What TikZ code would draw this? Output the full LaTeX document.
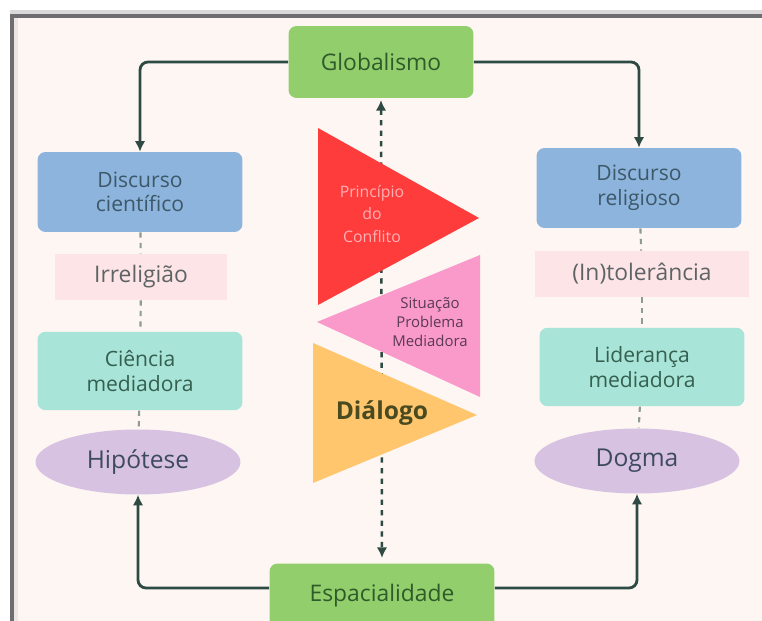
\documentclass[tikz,border=0pt]{standalone}
\usepackage{fontspec}
\setmainfont{Open Sans}
\usetikzlibrary{arrows.meta,shapes.geometric}

\definecolor{bgcream}{HTML}{FDF6F3}
\definecolor{framedk}{HTML}{6E6E72}
\definecolor{framelt}{HTML}{D9D9D9}
\definecolor{framesd}{HTML}{ECE7E3}
\definecolor{leafgreen}{HTML}{92CF6C}
\definecolor{leaftext}{HTML}{2F5A2A}
\definecolor{skyblue}{HTML}{8CB4DD}
\definecolor{skytext}{HTML}{3D5868}
\definecolor{blush}{HTML}{FDE4E6}
\definecolor{blushtext}{HTML}{5E6466}
\definecolor{mint}{HTML}{A8E4D8}
\definecolor{minttext}{HTML}{356050}
\definecolor{lilac}{HTML}{D8C2E2}
\definecolor{lilactext}{HTML}{3E4A60}
\definecolor{wirecol}{HTML}{2E4A42}
\definecolor{dashcol}{HTML}{8E9A96}
\definecolor{conflictred}{HTML}{FF3C3C}
\definecolor{conflicttext}{HTML}{FFB0B4}
\definecolor{problempink}{HTML}{F99ACB}
\definecolor{problemtext}{HTML}{5A3A55}
\definecolor{dialogorange}{HTML}{FFC66E}
\definecolor{dialogtext}{HTML}{4A4A20}

\begin{document}
\begin{tikzpicture}[x=0.02cm,y=-0.02cm,
    endbox/.style={fill=leafgreen, rounded corners=0.16cm, text=leaftext,
      minimum width=3.7cm, minimum height=1.44cm, font=\fontsize{13}{15}\selectfont},
    talkbox/.style={fill=skyblue, rounded corners=0.16cm, text=skytext, align=center,
      minimum width=4.1cm, minimum height=1.6cm, font=\fontsize{12}{14}\selectfont},
    tagbox/.style={fill=blush, text=blushtext, minimum height=0.92cm,
      font=\fontsize{13}{15}\selectfont},
    midbox/.style={fill=mint, rounded corners=0.16cm, text=minttext, align=center,
      minimum width=4.1cm, minimum height=1.57cm, font=\fontsize{12}{14}\selectfont},
    outcome/.style={ellipse, fill=lilac, text=lilactext, inner sep=0pt,
      minimum width=4.1cm, minimum height=1.3cm, font=\fontsize{14}{16}\selectfont},
    flow/.style={draw=wirecol, line width=1.6pt, rounded corners=0.16cm,
      -{Latex[length=6pt,width=6pt]}},
    link/.style={draw=dashcol, line width=1.2pt, dashed},
    axis/.style={draw=wirecol, line width=1.4pt, dashed,
      {Latex[length=6pt,width=6pt]}-{Latex[length=6pt,width=6pt]}}]

    % frame and paper
    \clip (0,0) rectangle (762,621);
    \fill[white] (0,0) rectangle (762,621);
    \fill[framelt] (10,10) rectangle (762,14);
    \fill[framedk] (10,14) rectangle (762,18);
    \fill[framedk] (10,14) rectangle (14,621);
    \fill[framesd] (14,18) rectangle (18,621);
    \fill[bgcream] (18,18) rectangle (762,621);

    % top and bottom
    \node[endbox] (glob) at (381,62) {Globalismo};
    \node[endbox, minimum width=4.5cm, minimum height=1.3cm] (esp) at (382,596) {Espacialidade};

    % left column
    \node[talkbox] (dsc) at (140,192) {Discurso\\científico};
    \node[tagbox, minimum width=3.46cm] (irr) at (141,277) {Irreligião};
    \node[midbox] (cim) at (140,371) {Ciência\\mediadora};
    \node[outcome] (hip) at (138,462) {Hipótese};

    % right column
    \node[talkbox] (dre) at (639,188) {Discurso\\religioso};
    \node[tagbox, minimum width=4.3cm] (intl) at (642,274) {(In)tolerância};
    \node[midbox] (lim) at (642,367) {Liderança\\mediadora};
    \node[outcome] (dog) at (637,461) {Dogma};

    % connectors
    \draw[flow] (glob.west) -| (dsc.north);
    \draw[flow] (glob.east) -| (dre.north);
    \draw[flow] ([yshift=0.16cm]esp.west) -| (hip.south);
    \draw[flow] ([yshift=0.16cm]esp.east) -| (dog.south);

    \draw[link] (dsc) -- (irr);
    \draw[link] (irr) -- (cim);
    \draw[link] (cim) -- (hip);
    \draw[link] (dre) -- (intl);
    \draw[link] (intl) -- (lim);
    \draw[link] (lim) -- (dog);

    \draw[axis, shorten <=1pt, shorten >=3pt] (glob.south) -- (esp.north);

    % the three pennants
    \fill[conflictred] (318,128) -- (318,305) -- (479,218) -- cycle;
    \fill[problempink] (480,255) -- (480,397) -- (317,322) -- cycle;
    \fill[dialogorange] (313,343) -- (313,483) -- (477,415) -- cycle;

    \node[text=conflicttext, align=center, font=\fontsize{9}{13}\selectfont] (conf) at (372,214) {Princípio\\do\\Conflito};
    \node[text=problemtext, align=center, font=\fontsize{8.5}{11}\selectfont] (prob) at (430,322) {Situação\\Problema\\Mediadora};
    \node[text=dialogtext, font=\fontsize{14}{16}\selectfont\bfseries] (dial) at (382,413) {Diálogo};
\end{tikzpicture}
\end{document}
